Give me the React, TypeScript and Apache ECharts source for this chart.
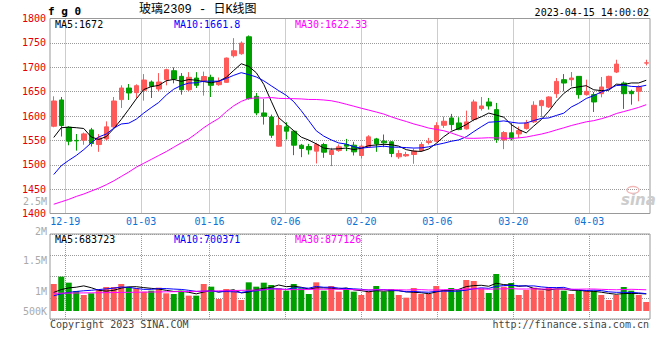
import React, { useEffect, useRef } from 'react';
import * as echarts from 'echarts';

// ---------- data ----------
const dates = [
  '12-15','12-16','12-19','12-20','12-21','12-22','12-23','12-26','12-27','12-28',
  '12-29','12-30','01-03','01-04','01-05','01-06','01-09','01-10','01-11','01-12',
  '01-13','01-16','01-17','01-18','01-19','01-20','01-30','01-31','02-01','02-02',
  '02-03','02-06','02-07','02-08','02-09','02-10','02-13','02-14','02-15','02-16',
  '02-17','02-20','02-21','02-22','02-23','02-24','02-27','02-28','03-01','03-02',
  '03-03','03-06','03-07','03-08','03-09','03-10','03-13','03-14','03-15','03-16',
  '03-17','03-20','03-21','03-22','03-23','03-24','03-27','03-28','03-29','03-30',
  '03-31','04-03','04-04','04-06','04-07','04-10','04-11','04-12','04-13','04-14',
];
const tickDates = ['12-19', '01-03', '01-16', '02-06', '02-20', '03-06', '03-20', '04-03'];

const openPrices = [
  1579, 1632.9, 1577, 1550, 1550.4, 1571.5, 1541.5, 1553, 1577.7, 1633.6,
  1657.4, 1647.9, 1652.7, 1669.7, 1655.4, 1674.5, 1692.9, 1681.3, 1654, 1677.9,
  1672, 1679.3, 1664.3, 1669, 1723.6, 1727.7, 1762.5, 1640.4, 1606.3, 1598,
  1538.1, 1577.7, 1568.8, 1540.1, 1537.4, 1527.9, 1541.5, 1521, 1529.2, 1541.5,
  1540.1, 1519, 1536.7, 1553, 1548.3, 1547, 1516.3, 1518.2, 1521, 1529.2,
  1545.6, 1548.3, 1581, 1596, 1585.8, 1573.6, 1592.6, 1615.2, 1628.8, 1613.1,
  1551, 1565.4, 1563.3, 1574.2, 1587.9, 1621.3, 1618.6, 1645.8, 1674.5, 1674.5,
  1681.3, 1643.8, 1643.8, 1645.8, 1657.4, 1690.2, 1667.6, 1650.6, 1650.6, 1708.5,
];
const closePrices = [
  1630.8, 1580.4, 1548.3, 1549, 1563.3, 1543.5, 1555.1, 1577.7, 1630.8, 1657.4,
  1647.2, 1662.2, 1673.8, 1660.8, 1669.7, 1695, 1675.9, 1654, 1679.3, 1662.9,
  1681, 1662.9, 1671, 1718.8, 1733.8, 1749.5, 1635.6, 1606.3, 1599.5, 1560.6,
  1580.4, 1568.8, 1540.1, 1533.3, 1530.6, 1541.5, 1525.8, 1529.2, 1536.7, 1538.1,
  1526.5, 1538.1, 1557.2, 1542.8, 1544.9, 1523.1, 1523.1, 1521, 1527.9, 1541.5,
  1548.3, 1580.4, 1589.2, 1582.4, 1572.2, 1587.9, 1628.8, 1620.6, 1620.6, 1551.7,
  1566, 1553.1, 1570.1, 1585.8, 1622, 1631.5, 1639, 1671, 1667.6, 1677.9,
  1643.8, 1650.6, 1628.8, 1659.5, 1681.3, 1706.5, 1645.8, 1645.8, 1659.5, 1709,
];
const highPrices = [
  1640.4, 1639, 1579, 1563, 1566, 1575.6, 1563, 1589, 1639, 1663,
  1665.6, 1665, 1686, 1673, 1688, 1697, 1699.7, 1688, 1690, 1690,
  1691, 1684.7, 1679, 1720, 1759.7, 1753, 1765.2, 1647.2, 1635, 1602.9,
  1597.4, 1587.2, 1570.1, 1542.8, 1542.8, 1544.9, 1544.9, 1534.7, 1541.5, 1553,
  1547, 1541.5, 1560.6, 1555.1, 1562, 1548.3, 1529.9, 1526.5, 1533.3, 1546.3,
  1555.1, 1587.2, 1598.8, 1604.3, 1597.4, 1611, 1633.6, 1639, 1637, 1626.8,
  1569, 1585.8, 1578.3, 1592, 1630.2, 1633.6, 1640.4, 1677.9, 1686, 1690.2,
  1681.3, 1674.5, 1649.3, 1680, 1682.7, 1715.4, 1671, 1654, 1662.9, 1715.4,
];
const lowPrices = [
  1577, 1557.9, 1540, 1529, 1541, 1537.4, 1526.5, 1549.7, 1575, 1616.5,
  1632.9, 1637, 1631.5, 1637, 1650.6, 1662.9, 1667, 1643.8, 1650.6, 1657.4,
  1641.8, 1639, 1662, 1668, 1720, 1725.6, 1633.6, 1601.5, 1582.4, 1555.1,
  1536.7, 1551.7, 1519.7, 1515.6, 1521, 1502.6, 1514.2, 1497.2, 1526.5, 1528,
  1519, 1512.9, 1534.7, 1526.5, 1536, 1515.6, 1512.2, 1516.3, 1502, 1526.5,
  1541.5, 1546.3, 1575.6, 1570.8, 1570.8, 1572.2, 1589.2, 1611, 1613.1, 1545,
  1532, 1549.7, 1555.1, 1572.2, 1585.8, 1597.4, 1616.5, 1637, 1650.6, 1660.8,
  1635.6, 1641.8, 1608.3, 1638.3, 1656.1, 1688.1, 1614.5, 1623.3, 1630.2, 1703.8,
];
const volumes = [
  1134000, 1442000, 1190000, 840000, 672000, 742000, 910000, 1008000, 1008000, 1134000,
  1008000, 952000, 812000, 854000, 980000, 742000, 714000, 854000, 644000, 644000,
  1134000, 1022000, 504000, 924000, 882000, 462000, 1204000, 1022000, 1190000, 1092000,
  952000, 854000, 1134000, 952000, 714000, 1204000, 854000, 1050000, 812000, 924000,
  812000, 672000, 812000, 1050000, 812000, 924000, 672000, 560000, 966000, 714000,
  714000, 1050000, 882000, 966000, 924000, 1302000, 1260000, 952000, 756000, 1554000,
  1022000, 1176000, 672000, 882000, 980000, 868000, 1008000, 910000, 854000, 714000,
  854000, 854000, 854000, 672000, 462000, 672000, 1008000, 854000, 672000, 378000,
];

// moving-average values before the window is full
const ma5Head = [1556, 1576, 1577, 1576];
const ma10Head = [1480, 1498, 1509, 1519, 1531, 1545, 1557, 1563, 1575];
const ma30Head = [
  1419, 1424, 1429, 1435, 1440, 1446, 1452, 1459, 1467, 1476,
  1485, 1495, 1503, 1511, 1519, 1527, 1536, 1545, 1553, 1564,
  1576, 1586, 1595, 1609, 1621, 1630, 1636, 1637, 1637,
];
const volMa5Head = [780000, 900000, 970000, 1000000];
const volMa10Head = [640000, 720000, 780000, 820000, 850000, 870000, 900000, 930000, 960000];
const volMa30Head = [
  745000, 748000, 752000, 756000, 760000, 763000, 767000, 771000, 775000, 780000,
  784000, 788000, 792000, 797000, 801000, 806000, 811000, 816000, 821000, 827000,
  833000, 840000, 847000, 853000, 860000, 867000, 874000, 880000, 886000,
];

const priceMin = 1400;
const priceMax = 1800;
const priceStep = 50;
const volTickLabels = ['2.5M', '2M', '1.5M', '1M', '500K'];
const maLegend = ['MA5:1672', 'MA10:1661.8', 'MA30:1622.33'];
const volMaLegend = ['MA5:683723', 'MA10:700371', 'MA30:877126'];
const symbolText = 'f g 0';
const titleText = '玻璃2309 - 日K线图';
const timeText = '2023-04-15 14:00:02';
const copyrightText = 'Copyright 2023 SINA.COM';
const urlText = 'http://finance.sina.com.cn';

// ---------- styles / layout ----------
const UP = '#ff5a5a';
const DOWN = '#00a000';
const MA_COLORS = ['#000000', '#0000ff', '#ff00ff'];
const GRID_LINE = '#9a9a9a';
const BORDER = '#999999';
const MONO = '"DejaVu Sans Mono", "Liberation Mono", monospace';
const LEGEND_X = [55, 174, 295];
const VOL_LABEL_Y = [201, 231, 260, 291, 311];

function movingAvg(values: number[], n: number, head: number[]) {
  return values.map((_, i) => {
    if (i < n - 1) return head[i];
    let s = 0;
    for (let k = i - n + 1; k <= i; k++) s += values[k];
    return Math.round((s / n) * 100) / 100;
  });
}

export default function App() {
  const ref = useRef<HTMLDivElement>(null);

  useEffect(() => {
    if (!ref.current) return;
    const chart = echarts.init(ref.current, undefined, { renderer: 'svg' });

    const candles = dates.map((_, i) => [openPrices[i], closePrices[i], lowPrices[i], highPrices[i]]);
    const volBars = volumes.map((v, i) => ({
      value: v,
      itemStyle: { color: closePrices[i] >= openPrices[i] ? UP : DOWN },
    }));
    const ma5 = movingAvg(closePrices, 5, ma5Head);
    const ma10 = movingAvg(closePrices, 10, ma10Head);
    const ma30 = movingAvg(closePrices, 30, ma30Head);
    const vma5 = movingAvg(volumes, 5, volMa5Head);
    const vma10 = movingAvg(volumes, 10, volMa10Head);
    const vma30 = movingAvg(volumes, 30, volMa30Head);

    const isTick = (_idx: number, value: string) => tickDates.includes(value);
    const dotted = { color: GRID_LINE, width: 1, type: [1, 1] as any };

    const lineSeries = (data: number[], color: string, xi: number, yi: number) => ({
      type: 'line',
      data,
      xAxisIndex: xi,
      yAxisIndex: yi,
      symbol: 'none',
      lineStyle: { color, width: 1 },
      silent: true,
      z: 3,
    });

    const text = (t: string, x: number, y: number, fill: string, opts: any = {}) => ({
      type: 'text',
      x,
      y,
      silent: true,
      style: {
        text: t,
        fill,
        font: opts.font || `10px ${MONO}`,
        textAlign: opts.align || 'left',
        textVerticalAlign: 'middle',
        verticalAlign: 'middle',
        align: opts.align || 'left',
      },
      z: 10,
    });

    const graphics: any[] = [
      text(symbolText, 48, 11, '#000', { font: `bold 11px ${MONO}` }),
      text(titleText, 139, 10, '#000', { font: `12px "Liberation Mono", "Noto Sans CJK SC", monospace` }),
      text(timeText, 649, 12, '#000', { align: 'right' }),
      ...maLegend.map((t, i) => text(t, LEGEND_X[i], 24, MA_COLORS[i])),
      ...volMaLegend.map((t, i) => text(t, LEGEND_X[i], 239, MA_COLORS[i])),
      ...volTickLabels.map((t, i) => text(t, 47, VOL_LABEL_Y[i], '#aaaaaa', { align: 'right' })),
      text(copyrightText, 50, 324, '#444', {}),
      text(urlText, 649, 324, '#444', { align: 'right' }),
      {
        type: 'ellipse',
        shape: { cx: 633, cy: 190, rx: 6, ry: 3.5 },
        style: { fill: 'none', stroke: '#f2b8b8', lineWidth: 1.5 },
        silent: true,
        z: 1,
      },
      text('sina', 621, 200, '#cccccc', { font: `italic bold 15px "DejaVu Sans", sans-serif` }),
    ];

    chart.setOption({
      animation: false,
      backgroundColor: '#ffffff',
      grid: [
        { left: 50, right: 10, top: 18.5, height: 195, show: true, borderColor: BORDER, borderWidth: 1, backgroundColor: 'transparent' },
        { left: 50, right: 10, top: 234, height: 85, show: true, borderColor: BORDER, borderWidth: 1, backgroundColor: 'transparent' },
      ],
      xAxis: [
        { type: 'category', data: dates, gridIndex: 0, boundaryGap: true, show: false, position: 'top' },
        {
          type: 'category', data: dates, gridIndex: 0, boundaryGap: false, position: 'bottom',
          axisLine: { show: false }, axisTick: { show: false },
          axisLabel: { interval: isTick, color: '#0b72d6', fontFamily: MONO, fontSize: 10, margin: 3 },
          splitLine: { show: true, interval: isTick, lineStyle: dotted },
        },
        { type: 'category', data: dates, gridIndex: 1, boundaryGap: true, show: false, position: 'top' },
        {
          type: 'category', data: dates, gridIndex: 1, boundaryGap: false, position: 'bottom',
          axisLine: { show: false }, axisTick: { show: false }, axisLabel: { show: false },
          splitLine: { show: true, interval: isTick, lineStyle: dotted },
        },
      ],
      yAxis: [
        {
          type: 'value', gridIndex: 0, min: priceMin, max: priceMax, interval: priceStep,
          axisLine: { show: false }, axisTick: { show: false },
          axisLabel: {
            color: '#e60000', fontFamily: MONO, fontSize: 10, margin: 4, padding: [0, 0, 4, 0],
            formatter: (v: number) => String(v),
          },
          splitLine: { show: true, lineStyle: dotted },
        },
        {
          type: 'value', gridIndex: 1, min: -336000, max: 3234000,
          axisLine: { show: false }, axisTick: { show: false }, axisLabel: { show: false },
          splitLine: { show: false },
        },
        {
          type: 'value', gridIndex: 1, min: 0, max: 4, interval: 1,
          axisLine: { show: false }, axisTick: { show: false }, axisLabel: { show: false },
          splitLine: { show: true, lineStyle: dotted },
        },
      ],
      series: [
        {
          type: 'candlestick',
          data: candles,
          xAxisIndex: 0,
          yAxisIndex: 0,
          barWidth: 5,
          itemStyle: { color: UP, color0: DOWN, borderColor: UP, borderColor0: DOWN, borderWidth: 1 },
          silent: true,
          z: 2,
        },
        lineSeries(ma5, MA_COLORS[0], 0, 0),
        lineSeries(ma10, MA_COLORS[1], 0, 0),
        lineSeries(ma30, MA_COLORS[2], 0, 0),
        {
          type: 'bar',
          data: volBars,
          xAxisIndex: 2,
          yAxisIndex: 1,
          barWidth: 6,
          silent: true,
          z: 2,
        },
        lineSeries(vma5, MA_COLORS[0], 2, 1),
        lineSeries(vma10, MA_COLORS[1], 2, 1),
        lineSeries(vma30, MA_COLORS[2], 2, 1),
      ],
      graphic: graphics,
    });

    return () => chart.dispose();
  }, []);

  return (
    <div
      ref={ref}
      style={{ position: 'fixed', left: 0, top: 0, width: 660, height: 360, background: '#fff' }}
    />
  );
}
